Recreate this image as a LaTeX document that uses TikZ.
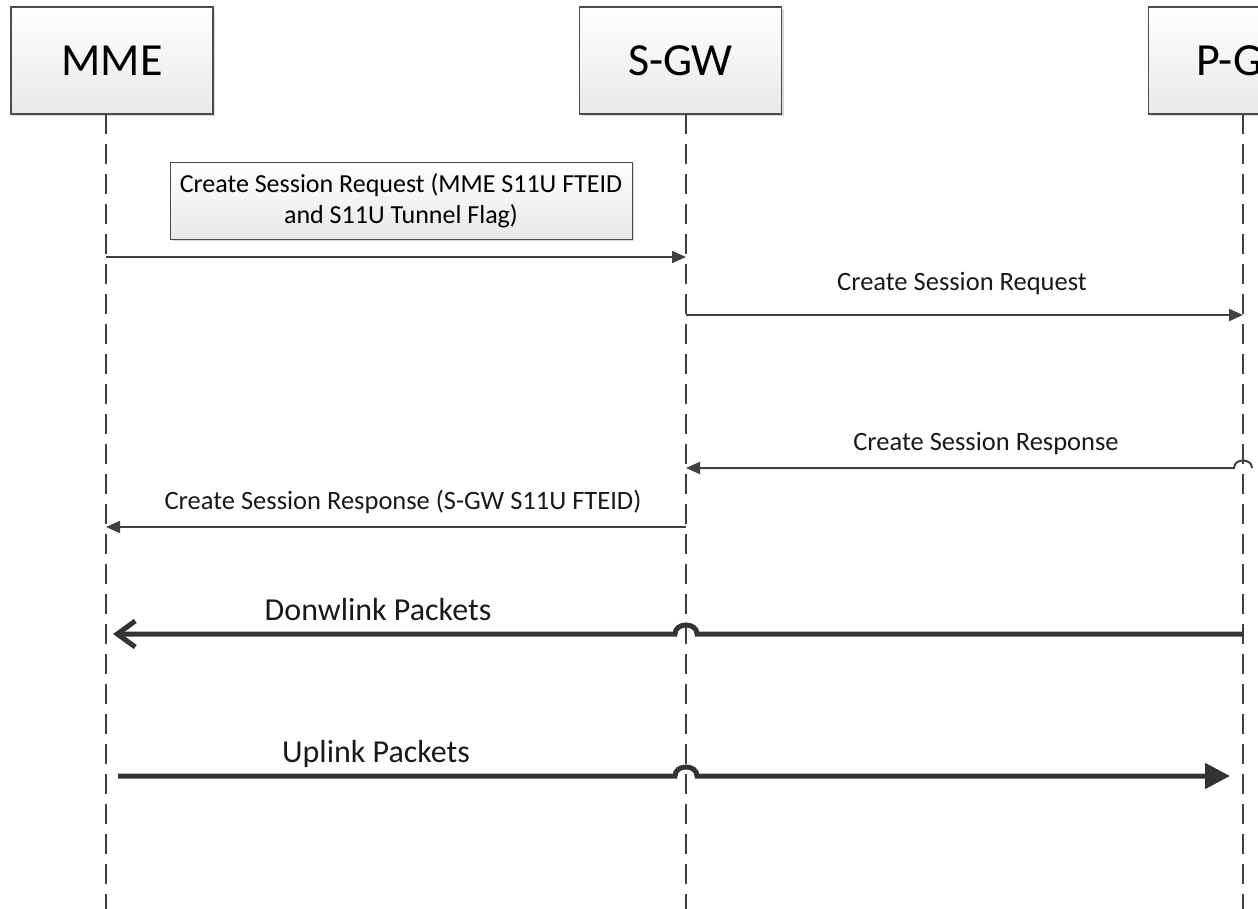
\documentclass[tikz,border=0pt]{standalone}
\usepackage{fontspec}
\setmainfont{Carlito}
\usetikzlibrary{arrows.meta,shadows}
\begin{document}
\begin{tikzpicture}[x=1pt,y=-1pt,
  actor/.style={draw=black!70, line width=1.2pt, top color=white, bottom color=black!9,
    minimum width=202pt, minimum height=107pt, inner sep=0pt,
    font=\fontsize{46}{50}\selectfont,
    drop shadow={shadow xshift=2pt,shadow yshift=-2pt,opacity=0.3}},
  notebox/.style={draw=black!70, line width=1pt, top color=white, bottom color=black!9,
    minimum width=462pt, minimum height=77pt, inner sep=0pt, align=center,
    font=\fontsize{26}{31}\selectfont,
    drop shadow={shadow xshift=2pt,shadow yshift=-2pt,opacity=0.3}},
  lifeline/.style={draw=black!75, line width=1.6pt, dash pattern=on 20pt off 10pt},
  msg/.style={draw=black!75, line width=2pt, -{Triangle[length=14pt,width=12pt]}},
  bigmsg/.style={draw=black!80, line width=5pt},
  lbl/.style={font=\fontsize{26.5}{30}\selectfont, text=black!90, inner sep=0pt},
  biglbl/.style={font=\fontsize{32}{36}\selectfont, text=black!90, inner sep=0pt}]
\useasboundingbox (0,0) rectangle (1258,909);
\clip (0,0) rectangle (1258,909);

% actors
\node[actor] (mme) at (112,60.5) {MME};
\node[actor] (sgw) at (680.5,60.5) {S-GW};
\node[actor, anchor=west] (pgw) at (1148,60.5) {P-GW};

% lifelines
\coordinate (mmeT) at (106,114);
\coordinate (mmeB) at (106,909);
\coordinate (sgwT) at (686,114);
\coordinate (sgwB) at (686,909);
\coordinate (pgwT) at (1243,114);
\coordinate (pgwB) at (1243,909);
\draw[lifeline] (mmeT) -- (mmeB);
\draw[lifeline] (sgwT) -- (sgwB);
\draw[lifeline] (pgwT) -- (pgwB);

% message 1
\coordinate (m1s) at (106,257);
\coordinate (m1e) at (686,257);
\draw[msg] (m1s) -- (m1e);
\node[notebox] (n1) at (401,201) {Create Session Request (MME S11U FTEID\\and S11U Tunnel Flag)};

% message 2
\coordinate (m2s) at (686,315);
\coordinate (m2e) at (1243,315);
\draw[msg] (m2s) -- (m2e);
\node[lbl] (l2) at (962,284) {Create Session Request};

% message 3
\coordinate (m3s) at (1252,468);
\coordinate (m3j) at (1234,468);
\coordinate (m3e) at (686,468);
\draw[msg] (m3s) .. controls (1252,458) and (1234,458) .. (m3j) -- (m3e);
\node[lbl] (l3) at (986,444) {Create Session Response};

% message 4
\coordinate (m4s) at (686,527);
\coordinate (m4e) at (106,527);
\draw[msg] (m4s) -- (m4e);
\node[lbl] (l4) at (403,502) {Create Session Response (S-GW S11U FTEID)};

% downlink
\coordinate (dls) at (1243,634);
\coordinate (dlj1) at (697,634);
\coordinate (dlj2) at (675,634);
\coordinate (dle) at (113,634);
\draw[bigmsg, -{Straight Barb[length=18pt,width=26pt]}] (dls) -- (dlj1) .. controls (697,622) and (675,622) .. (dlj2) -- (dle);
\node[biglbl] (ldl) at (378,610) {Donwlink Packets};

% uplink
\coordinate (uls) at (118,776);
\coordinate (ulj1) at (675,776);
\coordinate (ulj2) at (697,776);
\coordinate (ule) at (1230,776);
\draw[bigmsg, -{Triangle[length=25pt,width=25pt]}] (uls) -- (ulj1) .. controls (675,764) and (697,764) .. (ulj2) -- (ule);
\node[biglbl] (lul) at (376,754) {Uplink Packets};
\end{tikzpicture}
\end{document}
